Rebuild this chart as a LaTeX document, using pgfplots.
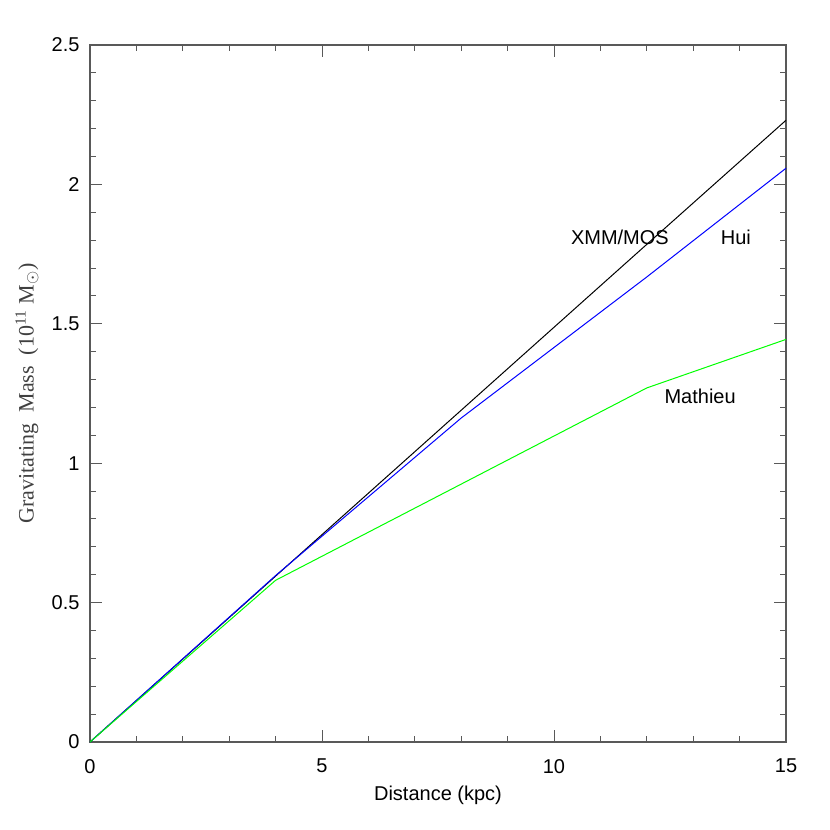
\documentclass[border=0pt]{standalone}
\usepackage{fontspec}
\setmainfont{Liberation Sans}
\newfontfamily\labelfont{Liberation Serif}
\usepackage{pgfplots}
\pgfplotsset{compat=1.18}
\begin{document}
\begin{tikzpicture}
\useasboundingbox (-45pt,-44pt) rectangle (370pt,371pt);
\begin{axis}[
  at={(0,0)}, anchor=origin,
  scale only axis, width=348pt, height=348.5pt,
  xmin=0, xmax=15, ymin=0, ymax=2.5,
  xtick={0,5,10,15}, ytick={0,0.5,1,1.5,2,2.5},
  minor x tick num=4, minor y tick num=4,
  tick align=inside,
  major tick length=6pt, minor tick length=3pt,
  axis line style={black!65, line width=0.6pt},
  every tick/.style={black!65, line width=0.5pt},
  tick pos=both,
  /pgf/number format/assume math mode=true,
  ticklabel style={font=\fontsize{10}{12}\selectfont},
  xticklabel style={yshift=-5pt},
  yticklabel style={xshift=-1.7pt},
  xlabel={Distance (kpc)},
  every axis x label/.style={at={(axis description cs:0.5,-0.076)}, anchor=center, font=\fontsize{10}{12}\selectfont},
  ylabel={\labelfont Gravitating\ \ Mass\ \ (10\textsuperscript{11}\ M\textsubscript{\(\odot\)})},
  every axis y label/.style={at={(axis description cs:-0.0905,0.5)}, anchor=center, rotate=90, font=\fontsize{11}{13}\selectfont, text=black!75},
  clip=false,
]
\addplot[black, line width=0.5pt] coordinates {(0,0) (4,0.595) (8,1.19) (12,1.785) (15,2.23)};
\addplot[blue, line width=0.5pt] coordinates {(0,0) (4,0.597) (8,1.162) (12,1.668) (15,2.058)};
\addplot[green, line width=0.5pt] coordinates {(0,0) (4,0.58) (12,1.27) (15,1.444)};
\node[font=\fontsize{10}{12}\selectfont] at (axis cs:11.42,1.811) {XMM/MOS};
\node[font=\fontsize{10}{12}\selectfont] at (axis cs:13.92,1.811) {Hui};
\node[font=\fontsize{10}{12}\selectfont] at (axis cs:13.15,1.241) {Mathieu};
\end{axis}
\end{tikzpicture}
\end{document}
